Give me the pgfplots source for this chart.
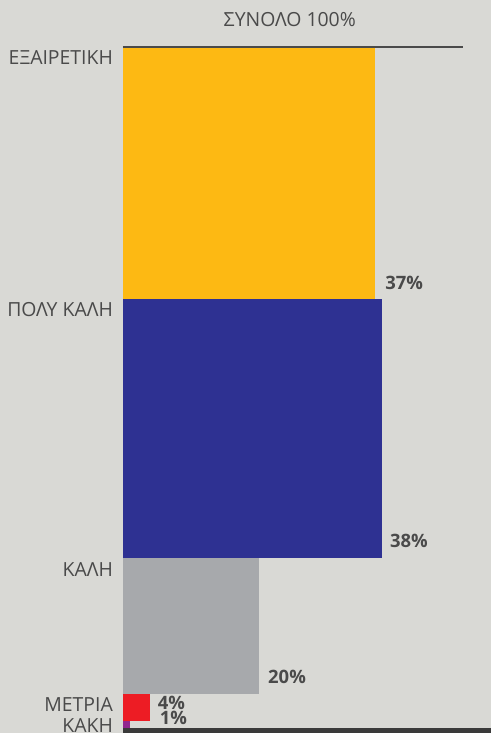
\documentclass[border=0pt]{standalone}
\usepackage{pgfplots}
\pgfplotsset{compat=1.18}
\usepackage{fontspec}
\setmainfont{Open Sans}
\definecolor{bg}{HTML}{D9D9D5}
\definecolor{txt}{HTML}{4A4A4A}
\definecolor{cyel}{HTML}{FDB913}
\definecolor{cblu}{HTML}{2E3192}
\definecolor{cgry}{HTML}{A7A9AC}
\definecolor{cred}{HTML}{ED1C24}
\definecolor{cpur}{HTML}{92278F}
\definecolor{cdark}{HTML}{3A3A3A}
\begin{document}
\begin{tikzpicture}
\fill[bg] (0,0) rectangle (491bp,733bp);
\begin{axis}[
  at={(0,0)}, anchor=south west,
  scale only axis, width=491bp, height=733bp,
  hide axis, y dir=reverse,
  xmin=-18.06, xmax=54.05, ymin=-6.90, ymax=100.73,
]
\addplot[fill=cyel, draw=none] coordinates {(0,0) (37,0) (37,37) (0,37)} -- cycle;
\addplot[fill=cblu, draw=none] coordinates {(0,37) (38,37) (38,75) (0,75)} -- cycle;
\addplot[fill=cgry, draw=none] coordinates {(0,75) (20,75) (20,95) (0,95)} -- cycle;
\addplot[fill=cred, draw=none] coordinates {(0,95) (4,95) (4,99) (0,99)} -- cycle;
\addplot[fill=cpur, draw=none] coordinates {(0,99) (1,99) (1,100) (0,100)} -- cycle;
\draw[color=txt, line width=1.2bp] (axis cs:0,0) -- (axis cs:49.9,0);
\fill[cdark] (axis cs:0,100.0) rectangle (axis cs:54.05,100.8);
\node[text=txt, font=\fontsize{19.5}{21}\selectfont] at (axis cs:24.5,-3.96) {ΣΥΝΟΛΟ 100\%};
\begin{scope}[every node/.append style={text=txt, anchor=east, inner sep=0pt, font=\fontsize{19.5}{21}\selectfont}]
\node at (axis cs:-1.45,1.6) {ΕΞΑΙΡΕΤΙΚΗ};
\node at (axis cs:-1.45,38.6) {ΠΟΛΥ ΚΑΛΗ};
\node at (axis cs:-1.45,76.8) {ΚΑΛΗ};
\node at (axis cs:-1.45,96.6) {ΜΕΤΡΙΑ};
\node at (axis cs:-1.45,99.6) {ΚΑΚΗ};
\end{scope}
\begin{scope}[every node/.append style={text=txt, anchor=west, inner sep=0pt, font=\bfseries\fontsize{18.5}{20}\selectfont}]
\node at (axis cs:38.5,34.65) {37\%};
\node at (axis cs:39.2,72.5) {38\%};
\node at (axis cs:21.3,92.5) {20\%};
\node at (axis cs:5.1,96.3) {4\%};
\node at (axis cs:5.4,98.5) {1\%};
\end{scope}
\end{axis}
\end{tikzpicture}
\end{document}
